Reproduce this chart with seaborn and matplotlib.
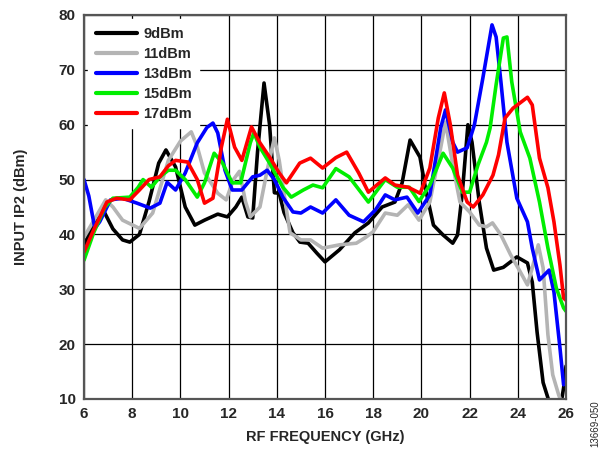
import matplotlib
matplotlib.use("Agg")
import matplotlib.pyplot as plt
import seaborn as sns
import pandas as pd

series_names = ["9dBm", "11dBm", "13dBm", "15dBm", "17dBm"]
series_colors = ["#000000", "#b4b4b4", "#0000ff", "#00ee00", "#ff0000"]

f_9 = [6.0, 6.4, 6.85, 7.2, 7.6, 7.9, 8.3, 8.7, 9.1, 9.4, 9.8, 10.2, 10.6, 11.0, 11.55, 11.95, 12.3, 12.55,
       12.8, 13.0, 13.2, 13.47, 13.7, 13.9, 14.1, 14.3, 14.67, 14.96, 15.3, 15.66, 16.0, 16.6, 17.24, 17.8,
       18.37, 18.9, 19.2, 19.53, 19.94, 20.2, 20.5, 20.9, 21.3, 21.5, 21.7, 21.93, 22.1, 22.4, 22.7, 23.0,
       23.4, 23.7, 23.96, 24.4, 24.6, 24.8, 25.05, 25.25, 25.5, 25.75, 25.9, 26.0]
v_9 = [38, 42, 44, 41, 39, 38.6, 40, 46, 53, 55.4, 52.3, 45, 41.7, 42.6, 43.7, 43.2, 45, 46.8,
       43.2, 43, 55, 67.6, 60, 47.6, 47.5, 44, 40.3, 38.6, 38.4, 36.6, 35.0, 37.2, 40.3, 42.1,
       45, 45.9, 49.4, 57.2, 54.1, 47.7, 41.7, 39.9, 38.4, 39.9, 47.7, 60, 56.8, 45.9, 37.5, 33.5,
       34, 35, 35.9, 34.8, 31.3, 22.2, 13, 10.2, 7, 8, 12, 16]

f_11 = [6.0, 6.4, 6.9, 7.2, 7.6, 8.3, 8.85, 9.5, 10.0, 10.45, 10.7, 11.0, 11.55, 11.9, 12.2, 12.45, 12.7,
        12.9, 13.3, 13.6, 13.9, 14.1, 14.4, 14.55, 15.0, 15.4, 15.9, 16.6, 17.3, 17.7, 18.0, 18.5, 19.0,
        19.45, 19.9, 20.35, 20.8, 21.0, 21.3, 21.6, 22.0, 22.4, 22.7, 22.95, 23.3, 23.7, 24.1, 24.4, 24.6,
        24.85, 25.05, 25.25, 25.45, 25.7, 25.85, 26.0]
v_11 = [39.5, 42.5, 46.3, 45, 42.6, 41.1, 43.9, 53.5, 57, 58.7, 56, 51.2, 47.5, 46.3, 50, 51.5, 46,
        43.2, 45, 51.7, 57.6, 53.5, 44.5, 40.3, 39, 39, 37.5, 38.1, 38.4, 39.5, 40.5, 43.9, 43.5,
        45.4, 42.6, 45.9, 55.8, 60.5, 52.7, 45.9, 44.1, 41.7, 41.4, 42.1, 39.9, 36.3, 33.2, 30.8, 33.9,
        38.1, 33.9, 21.7, 14.4, 10.7, 9, 9]

f_13 = [6.0, 6.2, 6.45, 6.65, 7.1, 7.6, 8.2, 8.75, 9.15, 9.45, 9.8, 10.2, 10.7, 11.1, 11.35, 11.55, 11.85,
        12.15, 12.55, 13.0, 13.3, 13.6, 13.9, 14.25, 14.67, 15.0, 15.4, 15.9, 16.45, 17.0, 17.6, 18.1,
        18.5, 18.9, 19.4, 19.85, 20.35, 20.8, 21.0, 21.3, 21.5, 21.9, 22.2, 22.55, 22.93, 23.1, 23.3,
        23.55, 23.96, 24.4, 24.6, 24.9, 25.3, 25.5, 25.75, 25.9, 26.0]
v_13 = [50, 47, 41.1, 42.3, 46.3, 46.6, 45.7, 44.8, 45.7, 49.5, 48.1, 51.2, 56.7, 59.5, 60.3, 58.5, 51.7,
        48.1, 48.1, 50.5, 50.8, 51.7, 50, 46.8, 44.1, 43.9, 45, 43.9, 46.3, 43.5, 42.3, 44.5,
        47.2, 46.3, 46.8, 43.9, 47.2, 59.4, 62.7, 56.8, 55, 55.8, 60, 68.5, 78.2, 76, 67.8,
        56.8, 46.6, 42.3, 37.5, 31.7, 33.5, 29.5, 19.3, 12.6, 13]

f_15 = [6.0, 6.4, 6.87, 7.2, 7.9, 8.25, 8.45, 8.8, 9.15, 9.5, 9.8, 10.2, 10.7, 11.0, 11.4, 11.75, 12.15,
        12.5, 12.9, 13.05, 13.3, 13.7, 14.25, 14.6, 15.1, 15.5, 15.9, 16.45, 17.0, 17.8, 18.5, 19.0,
        19.5, 19.9, 20.35, 20.9, 21.3, 21.7, 22.0, 22.35, 22.7, 22.85, 23.1, 23.4, 23.55, 23.75, 24.1,
        24.5, 24.9, 25.25, 25.6, 25.9, 26.0]
v_15 = [35.3, 40.3, 45, 46.6, 46.8, 48.6, 50, 48.6, 50.5, 51.7, 51.7, 50, 46.8, 49.4, 54.8, 53, 49.4,
        49.4, 56.7, 58.5, 55.9, 53, 48.6, 46.8, 48.1, 49, 48.5, 52, 50.5, 45.9, 50, 48.6,
        48.6, 46, 49, 54.8, 52.1, 47.7, 47.7, 52.7, 56.8, 59.4, 67.3, 75.8, 76, 67.8, 58.7,
        53.9, 45.9, 37.5, 30.2, 26.6, 26]

f_17 = [6.0, 6.4, 6.95, 7.35, 7.9, 8.3, 8.7, 9.15, 9.5, 9.8, 10.3, 10.7, 11.0, 11.35, 11.7, 11.95, 12.25,
        12.55, 12.95, 13.3, 13.7, 14.1, 14.4, 14.95, 15.4, 15.9, 16.45, 16.9, 17.4, 17.8, 18.5, 18.9,
        19.45, 19.95, 20.35, 20.7, 20.95, 21.2, 21.5, 21.9, 22.15, 22.55, 22.97, 23.2, 23.47, 23.8,
        24.4, 24.6, 24.9, 25.25, 25.5, 25.75, 25.9, 26.0]
v_17 = [36.8, 40.8, 45.9, 46.6, 46.3, 48.1, 50, 50.5, 52.5, 53.5, 53.2, 50, 45.7, 46.6, 55.9, 61, 55.9,
        53.5, 59.6, 56.7, 54.1, 51.2, 49.4, 53, 53.9, 52.1, 54, 55, 51.2, 47.7, 50.3, 49,
        48.6, 47.5, 52.1, 61.2, 65.8, 60, 50.8, 45.9, 45, 47.2, 50.8, 54.5, 61.2, 63,
        65, 63.6, 53.9, 48.5, 42.3, 34.4, 28.4, 28]

x_ticks = [6, 8, 10, 12, 14, 16, 18, 20, 22, 24, 26]
y_ticks = [10, 20, 30, 40, 50, 60, 70, 80]

freqs = [f_9, f_11, f_13, f_15, f_17]
vals = [v_9, v_11, v_13, v_15, v_17]
frames = []
for name, f, v in zip(series_names, freqs, vals):
    frames.append(pd.DataFrame({"freq": f, "ip2": v, "series": name}))
df = pd.concat(frames, ignore_index=True)

sns.set_style("white")
plt.rcParams["font.family"] = ["Liberation Sans", "DejaVu Sans"]

fig = plt.figure(figsize=(6.13, 4.5), dpi=100)
ax = fig.add_axes([84 / 613, 1 - 399 / 450, (566 - 84) / 613, (399 - 15) / 450])

sns.lineplot(data=df, x="freq", y="ip2", hue="series", hue_order=series_names,
             palette=series_colors, sort=False, linewidth=2.6, ax=ax, legend=True)
for ln in ax.get_lines():
    ln.set_solid_joinstyle("round")
    ln.set_solid_capstyle("round")

ax.set_xlim(6, 26)
ax.set_ylim(10, 80)
ax.set_xticks(x_ticks)
ax.set_yticks(y_ticks)
ax.grid(True, color="black", linewidth=0.9)
ax.set_axisbelow(True)
for s in ax.spines.values():
    s.set_color("#555555")
    s.set_linewidth(1.6)
ax.tick_params(axis="both", length=3, width=1, color="black", direction="out",
               labelsize=11, pad=3)
for lab in ax.get_xticklabels() + ax.get_yticklabels():
    lab.set_fontweight("bold")

ax.set_xlabel("RF FREQUENCY (GHz)", fontsize=10.5, fontweight="bold", labelpad=6)
ax.set_ylabel("INPUT IP2 (dBm)", fontsize=10.5, fontweight="bold", labelpad=22)

leg = ax.legend(loc="upper left", bbox_to_anchor=(0.0, 1.0), frameon=True, fancybox=False,
                framealpha=1, edgecolor="white", facecolor="white", handlelength=2.8,
                handletextpad=0.45, labelspacing=0.42, borderpad=0.5, borderaxespad=0.3,
                prop={"weight": "bold", "size": 10.5})
for line in leg.get_lines():
    line.set_linewidth(3)

fig.text(595 / 613, 1 - 424 / 450, "13669-050", rotation=90,
         fontsize=7, ha="center", va="center")

fig.savefig("out.png", dpi=100)
